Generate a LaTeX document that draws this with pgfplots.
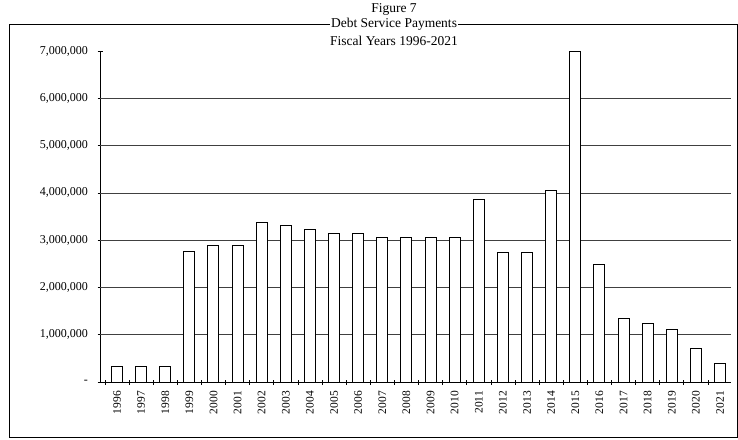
\documentclass[border=0pt]{standalone}
\usepackage{fontspec}
\setmainfont{Liberation Serif}
\usepackage{pgfplots}
\pgfplotsset{compat=1.18}
\begin{document}
\begin{tikzpicture}
\useasboundingbox (0pt,0pt) rectangle (738pt,439pt);
\draw[line width=0.9pt] (9pt,415pt) rectangle (737pt,1.5pt);
\begin{axis}[
  at={(100pt,57pt)}, anchor=south west,
  scale only axis, width=631pt, height=331pt,
  xmin=-0.705, xmax=25.456, ymin=0, ymax=7000000,
  axis lines*=left, axis line style={-, line width=0.8pt},
  ybar, bar width=11pt,
  xtick={0,...,25},
  xticklabels={1996,1997,1998,1999,2000,2001,2002,2003,2004,2005,2006,2007,2008,2009,2010,2011,2012,2013,2014,2015,2016,2017,2018,2019,2020,2021},
  x tick label style={rotate=90, anchor=east, font=\fontsize{11.5}{13}\selectfont, xshift=-3pt},
  major x tick style={draw=none},
  minor xtick={-0.5,0.5,...,25.5},
  minor tick length=5pt,
  xtick align=center,
  scaled y ticks=false,
  ytick={0,1000000,...,7000000},
  yticklabels={{-},{1,000,000},{2,000,000},{3,000,000},{4,000,000},{5,000,000},{6,000,000},{7,000,000}},
  y tick label style={font=\fontsize{12}{14}\selectfont, xshift=-6pt},
  ytick align=center, major tick length=5pt,
  extra y ticks={1000000,2000000,3000000,4000000,5000000,6000000},
  extra y tick labels={},
  extra y tick style={grid=major, major tick length=0pt},
  grid style={black!75, line width=0.7pt},
  /pgf/number format/assume math mode=true,
  tick style={black, line width=0.7pt},
  clip=false,
]
\addplot[draw=black, fill=white, line width=1pt] coordinates {
(0,330000) (1,330000) (2,330000) (3,2760000) (4,2890000) (5,2890000)
(6,3370000) (7,3300000) (8,3230000) (9,3150000) (10,3150000) (11,3050000)
(12,3050000) (13,3050000) (14,3050000) (15,3850000) (16,2740000) (17,2740000)
(18,4040000) (19,6980000) (20,2490000) (21,1340000) (22,1240000) (23,1120000)
(24,710000) (25,400000)
};
\end{axis}
\node[font=\fontsize{13.5}{15}\selectfont] at (394pt,430pt) {Figure 7};
\node[font=\fontsize{13.5}{15}\selectfont, fill=white, inner sep=1.5pt] at (394pt,415pt) {Debt Service Payments};
\node[font=\fontsize{13.5}{15}\selectfont] at (394pt,398pt) {Fiscal Years 1996-2021};
\end{tikzpicture}
\end{document}
